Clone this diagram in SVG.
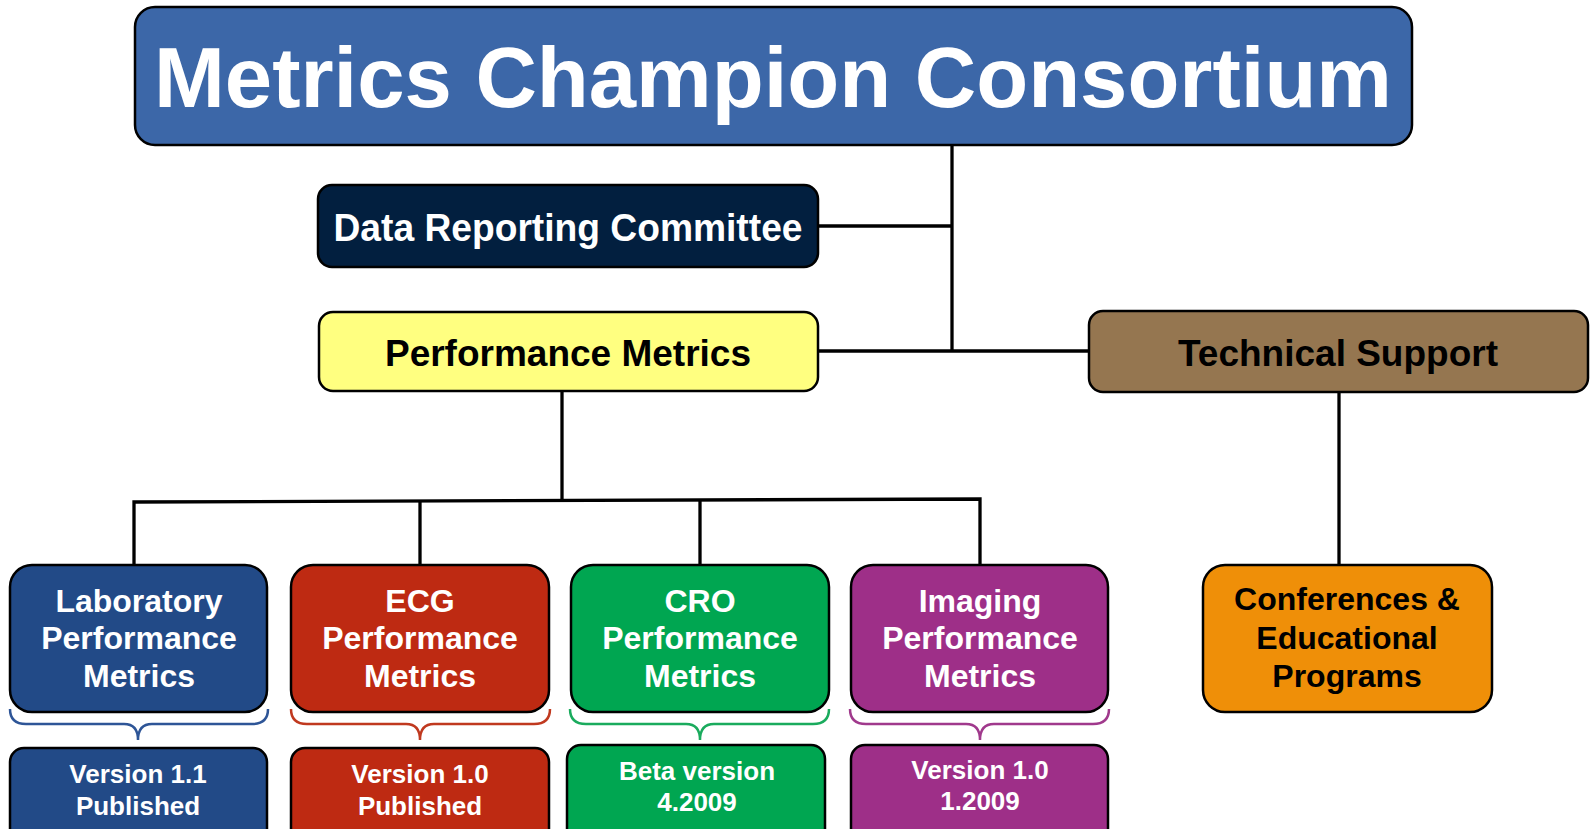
<svg xmlns="http://www.w3.org/2000/svg" width="1592" height="829" viewBox="0 0 1592 829">
<style>
.box{stroke:#000;stroke-width:2.5}
.t{font-family:"Liberation Sans",Arial,sans-serif;font-weight:bold;text-anchor:middle}
.w{fill:#fff}
.k{fill:#000}
.conn{stroke:#000;stroke-width:3.3;fill:none}
.brace{fill:none;stroke-width:2.5}
</style>
<rect width="1592" height="829" fill="#fff"/>
<g id="connectors">
<path class="conn" d="M952,145 V351"/>
<path class="conn" d="M818,226 H952"/>
<path class="conn" d="M818,351 H1089"/>
<path class="conn" d="M562,391 V501"/>
<path class="conn" d="M134,566 V502 L980,499 V566"/>
<path class="conn" d="M420,566 V501"/>
<path class="conn" d="M700,566 V500"/>
<path class="conn" d="M1339,392 V565"/>
</g>
<g id="title">
<rect class="box" x="135" y="7" width="1277" height="138" rx="20" fill="#3c67a8"/>
<text class="t w" x="773" y="107" font-size="85" textLength="1238" lengthAdjust="spacingAndGlyphs">Metrics Champion Consortium</text>
</g>
<g id="drc">
<rect class="box" x="318" y="185" width="500" height="82" rx="14" fill="#021f3f"/>
<text class="t w" x="568" y="241" font-size="38" textLength="469" lengthAdjust="spacingAndGlyphs">Data Reporting Committee</text>
</g>
<g id="pm">
<rect class="box" x="319" y="312" width="499" height="79" rx="14" fill="#ffff80"/>
<text class="t k" x="568" y="366" font-size="37">Performance Metrics</text>
</g>
<g id="ts">
<rect class="box" x="1089" y="311" width="499" height="81" rx="14" fill="#957650"/>
<text class="t k" x="1338" y="366" font-size="37">Technical Support</text>
</g>
<g id="lab">
<rect class="box" x="10" y="565" width="257" height="147" rx="22" fill="#224a87"/>
<text class="t w" font-size="32"><tspan x="139" y="612">Laboratory</tspan><tspan x="139" y="649">Performance</tspan><tspan x="139" y="687">Metrics</tspan></text>
</g>
<g id="ecg">
<rect class="box" x="291" y="565" width="258" height="147" rx="22" fill="#be2a12"/>
<text class="t w" font-size="32"><tspan x="420" y="612">ECG</tspan><tspan x="420" y="649">Performance</tspan><tspan x="420" y="687">Metrics</tspan></text>
</g>
<g id="cro">
<rect class="box" x="571" y="565" width="258" height="147" rx="22" fill="#00a651"/>
<text class="t w" font-size="32"><tspan x="700" y="612">CRO</tspan><tspan x="700" y="649">Performance</tspan><tspan x="700" y="687">Metrics</tspan></text>
</g>
<g id="imaging">
<rect class="box" x="851" y="565" width="257" height="147" rx="22" fill="#9e2f88"/>
<text class="t w" font-size="32"><tspan x="980" y="612">Imaging</tspan><tspan x="980" y="649">Performance</tspan><tspan x="980" y="687">Metrics</tspan></text>
</g>
<g id="conferences">
<rect class="box" x="1203" y="565" width="289" height="147" rx="22" fill="#ef8f08"/>
<text class="t k" font-size="32"><tspan x="1347" y="610">Conferences &amp;</tspan><tspan x="1347" y="649">Educational</tspan><tspan x="1347" y="687">Programs</tspan></text>
</g>
<g id="braces">
<path class="brace" stroke="#2e5597" d="M10,709 Q10,724 26,724 H124 Q138,724 138,740 Q138,724 152,724 H252 Q268,724 268,709"/>
<path class="brace" stroke="#c0391f" d="M291,709 Q291,724 307,724 H406 Q420,724 420,740 Q420,724 434,724 H534 Q550,724 550,709"/>
<path class="brace" stroke="#1aab5d" d="M570,709 Q570,724 586,724 H686 Q700,724 700,740 Q700,724 714,724 H813 Q829,724 829,709"/>
<path class="brace" stroke="#a0398c" d="M850,709 Q850,724 866,724 H966 Q980,724 980,740 Q980,724 994,724 H1093 Q1109,724 1109,709"/>
</g>
<g id="lab-version">
<rect class="box" x="10" y="748" width="257" height="100" rx="14" fill="#224a87"/>
<text class="t w" font-size="26"><tspan x="138" y="783">Version 1.1</tspan><tspan x="138" y="815">Published</tspan></text>
</g>
<g id="ecg-version">
<rect class="box" x="291" y="748" width="258" height="100" rx="14" fill="#be2a12"/>
<text class="t w" font-size="26"><tspan x="420" y="783">Version 1.0</tspan><tspan x="420" y="815">Published</tspan></text>
</g>
<g id="cro-version">
<rect class="box" x="567" y="745" width="258" height="100" rx="14" fill="#00a651"/>
<text class="t w" font-size="26"><tspan x="697" y="780">Beta version</tspan><tspan x="697" y="811">4.2009</tspan></text>
</g>
<g id="imaging-version">
<rect class="box" x="851" y="745" width="257" height="100" rx="14" fill="#9e2f88"/>
<text class="t w" font-size="26"><tspan x="980" y="779">Version 1.0</tspan><tspan x="980" y="810">1.2009</tspan></text>
</g>
</svg>
